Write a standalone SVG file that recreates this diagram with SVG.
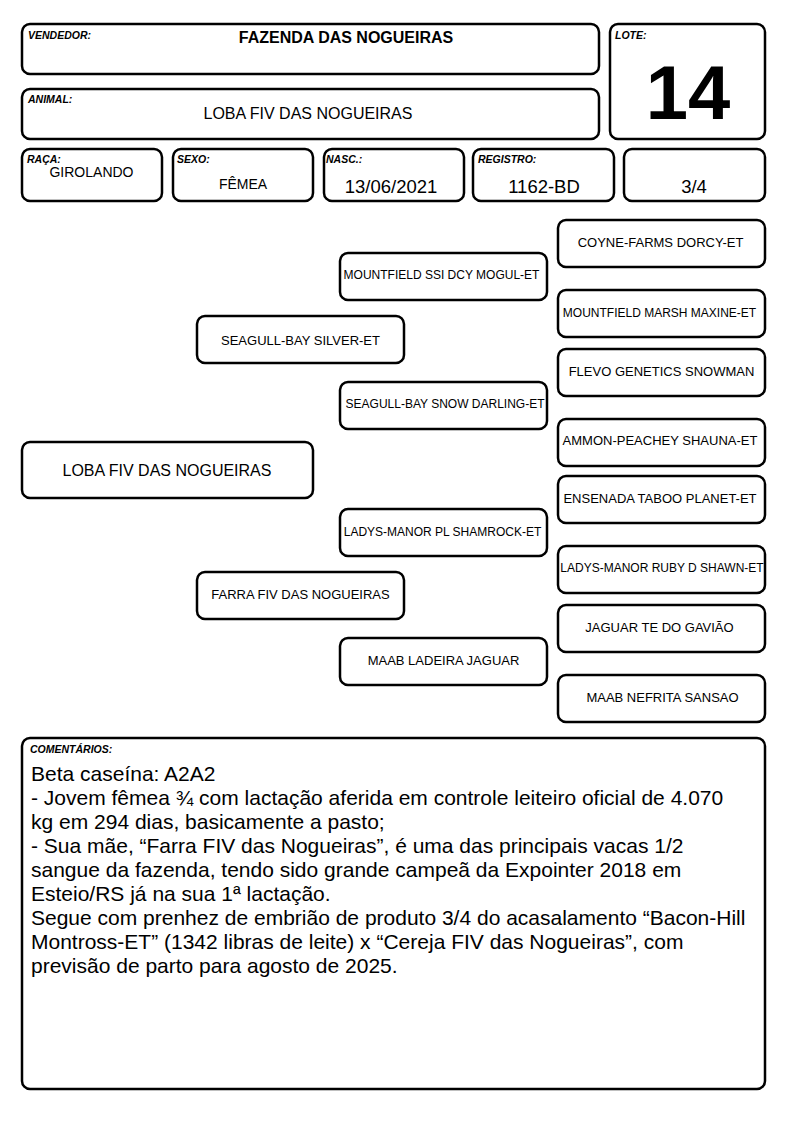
<svg xmlns="http://www.w3.org/2000/svg" width="794" height="1123" viewBox="0 0 794 1123">
<style>
.box{fill:#fff;stroke:#000;stroke-width:2.5}
.lbl{font-family:"Liberation Sans",Arial,sans-serif;font-size:10.5px;font-weight:bold;font-style:italic;fill:#000}
.val{font-family:"Liberation Sans",Arial,sans-serif;fill:#000;text-anchor:middle}
.n13{font-family:"Liberation Sans",Arial,sans-serif;font-size:13px;fill:#000;text-anchor:middle}
.n12{font-family:"Liberation Sans",Arial,sans-serif;font-size:12px;fill:#000;text-anchor:middle}
.cm{font-family:"Liberation Sans",Arial,sans-serif;font-size:21px;fill:#000}
</style>
<rect width="794" height="1123" fill="#fff"/>
<g id="vendedor">
<rect class="box" x="22" y="24" width="577" height="50" rx="8"/>
<text class="lbl" x="28" y="39">VENDEDOR:</text>
<text class="val" x="346" y="43" font-size="16" font-weight="bold">FAZENDA DAS NOGUEIRAS</text>
</g>
<g id="animal">
<rect class="box" x="22" y="89" width="577" height="50" rx="8"/>
<text class="lbl" x="28" y="103">ANIMAL:</text>
<text class="val" x="308" y="119" font-size="16">LOBA FIV DAS NOGUEIRAS</text>
</g>
<g id="lote">
<rect class="box" x="610" y="24" width="155" height="115" rx="8"/>
<text class="lbl" x="615" y="39">LOTE:</text>
<text class="val" x="688" y="119" font-size="76" font-weight="bold">14</text>
</g>
<g id="raca">
<rect class="box" x="22" y="149" width="140" height="52" rx="8"/>
<text class="lbl" x="27" y="163">RAÇA:</text>
<text class="val" x="91.5" y="177" font-size="14">GIROLANDO</text>
</g>
<g id="sexo">
<rect class="box" x="173" y="149" width="140" height="52" rx="8"/>
<text class="lbl" x="177" y="163">SEXO:</text>
<text class="val" x="243" y="189" font-size="14">FÊMEA</text>
</g>
<g id="nasc">
<rect class="box" x="324" y="149" width="140" height="52" rx="8"/>
<text class="lbl" x="326" y="163">NASC.:</text>
<text class="val" x="391" y="193" font-size="18.5">13/06/2021</text>
</g>
<g id="registro">
<rect class="box" x="473" y="149" width="141" height="52" rx="8"/>
<text class="lbl" x="478" y="163">REGISTRO:</text>
<text class="val" x="544" y="193" font-size="18.5">1162-BD</text>
</g>
<g id="grau">
<rect class="box" x="624" y="149" width="141" height="52" rx="8"/>
<text class="val" x="694" y="193" font-size="18.5">3/4</text>
</g>
<g id="p-loba">
<rect class="box" x="22" y="442" width="291" height="56" rx="8"/>
<text class="val" x="167" y="476" font-size="16">LOBA FIV DAS NOGUEIRAS</text>
</g>
<g id="p-silver">
<rect class="box" x="197" y="316" width="207" height="47" rx="8"/>
<text class="n13" x="300.5" y="345">SEAGULL-BAY SILVER-ET</text>
</g>
<g id="p-farra">
<rect class="box" x="197" y="572" width="207" height="47" rx="8"/>
<text class="n13" x="300.5" y="599">FARRA FIV DAS NOGUEIRAS</text>
</g>
<g id="p-mogul">
<rect class="box" x="340" y="253" width="207" height="47" rx="8"/>
<text class="n12" x="441.5" y="279">MOUNTFIELD SSI DCY MOGUL-ET</text>
</g>
<g id="p-darling">
<rect class="box" x="340" y="382" width="207" height="47" rx="8"/>
<text class="n12" x="445" y="408">SEAGULL-BAY SNOW DARLING-ET</text>
</g>
<g id="p-shamrock">
<rect class="box" x="340" y="509" width="207" height="47" rx="8"/>
<text class="n12" x="442.5" y="536">LADYS-MANOR PL SHAMROCK-ET</text>
</g>
<g id="p-ladeira">
<rect class="box" x="340" y="638" width="207" height="47" rx="8"/>
<text class="n13" x="443.5" y="665">MAAB LADEIRA JAGUAR</text>
</g>
<g id="p-coyne">
<rect class="box" x="558" y="220" width="207" height="47" rx="8"/>
<text class="n13" x="660.5" y="247">COYNE-FARMS DORCY-ET</text>
</g>
<g id="p-maxine">
<rect class="box" x="558" y="290" width="207" height="47" rx="8"/>
<text class="n12" x="659.5" y="317">MOUNTFIELD MARSH MAXINE-ET</text>
</g>
<g id="p-flevo">
<rect class="box" x="558" y="349" width="207" height="47" rx="8"/>
<text class="n13" x="661.5" y="376">FLEVO GENETICS SNOWMAN</text>
</g>
<g id="p-ammon">
<rect class="box" x="558" y="419" width="207" height="47" rx="8"/>
<text class="n13" x="660" y="445">AMMON-PEACHEY SHAUNA-ET</text>
</g>
<g id="p-ensenada">
<rect class="box" x="558" y="476" width="207" height="47" rx="8"/>
<text class="n13" x="660" y="503">ENSENADA TABOO PLANET-ET</text>
</g>
<g id="p-ruby">
<rect class="box" x="558" y="546" width="207" height="47" rx="8"/>
<text class="n12" x="662" y="572">LADYS-MANOR RUBY D SHAWN-ET</text>
</g>
<g id="p-jaguarte">
<rect class="box" x="558" y="605" width="207" height="47" rx="8"/>
<text class="n13" x="659.5" y="632">JAGUAR TE DO GAVIÃO</text>
</g>
<g id="p-nefrita">
<rect class="box" x="558" y="675" width="207" height="47" rx="8"/>
<text class="n13" x="662.5" y="702">MAAB NEFRITA SANSAO</text>
</g>
<g id="connectors"></g>
<g id="comentarios">
<rect class="box" x="22" y="738" width="743" height="351" rx="8"/>
<text class="lbl" x="30" y="753">COMENTÁRIOS:</text>
<text class="cm" x="31" y="781">Beta caseína: A2A2</text>
<text class="cm" x="31" y="805">- Jovem fêmea ¾ com lactação aferida em controle leiteiro oficial de 4.070</text>
<text class="cm" x="31" y="829">kg em 294 dias, basicamente a pasto;</text>
<text class="cm" x="31" y="853">- Sua mãe, “Farra FIV das Nogueiras”, é uma das principais vacas 1/2</text>
<text class="cm" x="31" y="877">sangue da fazenda, tendo sido grande campeã da Expointer 2018 em</text>
<text class="cm" x="31" y="901">Esteio/RS já na sua 1ª lactação.</text>
<text class="cm" x="31" y="925">Segue com prenhez de embrião de produto 3/4 do acasalamento “Bacon-Hill</text>
<text class="cm" x="31" y="949">Montross-ET” (1342 libras de leite) x “Cereja FIV das Nogueiras”, com</text>
<text class="cm" x="31" y="973">previsão de parto para agosto de 2025.</text>
</g>
</svg>
